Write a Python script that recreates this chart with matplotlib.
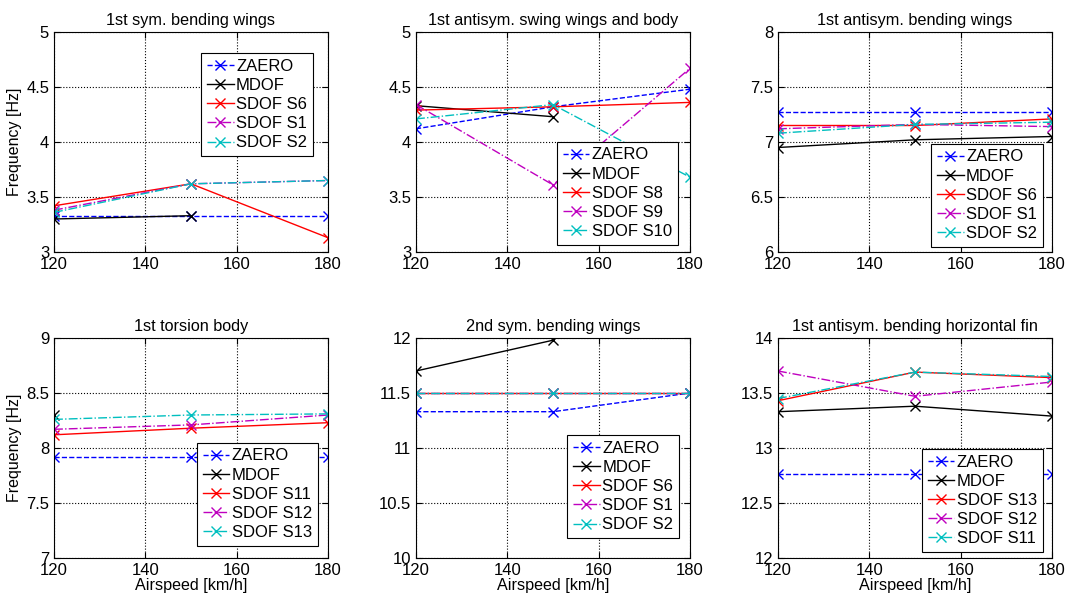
import matplotlib
matplotlib.use('Agg')
import matplotlib.pyplot as plt

plt.rcParams['font.family'] = ['Liberation Sans', 'DejaVu Sans']

airspeed = [120, 150, 180]

# 1st sym. bending wings
sb1_zaero = [3.33, 3.33, 3.33]
sb1_mdof = [3.30, 3.33]
sb1_s6 = [3.42, 3.62, 3.13]
sb1_s1 = [3.38, 3.62, 3.65]
sb1_s2 = [3.36, 3.62, 3.65]

# 1st antisym. swing wings and body
as1_zaero = [4.12, 4.32, 4.48]
as1_mdof = [4.33, 4.23]
as1_s8 = [4.29, 4.32, 4.36]
as1_s9 = [4.34, 3.61, 4.67]
as1_s10 = [4.21, 4.34, 3.68]

# 1st antisym. bending wings
ab1_zaero = [7.27, 7.27, 7.27]
ab1_mdof = [6.95, 7.02, 7.05]
ab1_s6 = [7.15, 7.15, 7.21]
ab1_s1 = [7.12, 7.16, 7.14]
ab1_s2 = [7.08, 7.16, 7.18]

# 1st torsion body
tb1_zaero = [7.92, 7.92, 7.92]
tb1_mdof = [8.30]
tb1_s11 = [8.12, 8.18, 8.23]
tb1_s12 = [8.17, 8.21, 8.30]
tb1_s13 = [8.26, 8.30, 8.31]

# 2nd sym. bending wings
sb2_zaero = [11.33, 11.33, 11.50]
sb2_mdof = [11.70, 11.98]
sb2_s6 = [11.50, 11.50, 11.50]
sb2_s1 = [11.50, 11.50, 11.50]
sb2_s2 = [11.50, 11.50, 11.50]

# 1st antisym. bending horizontal fin
hf1_zaero = [12.76, 12.76, 12.76]
hf1_mdof = [13.33, 13.38, 13.29]
hf1_s13 = [13.43, 13.69, 13.64]
hf1_s12 = [13.70, 13.47, 13.60]
hf1_s11 = [13.45, 13.69, 13.65]

panels = [
    ('1st sym. bending wings', (3, 5),
     [sb1_zaero, sb1_mdof, sb1_s6, sb1_s1, sb1_s2],
     ['ZAERO', 'MDOF', 'SDOF S6', 'SDOF S1', 'SDOF S2'], (0.945, 0.905), 'upper right'),
    ('1st antisym. swing wings and body', (3, 5),
     [as1_zaero, as1_mdof, as1_s8, as1_s9, as1_s10],
     ['ZAERO', 'MDOF', 'SDOF S8', 'SDOF S9', 'SDOF S10'], (0.956, 0.032), 'lower right'),
    ('1st antisym. bending wings', (6, 8),
     [ab1_zaero, ab1_mdof, ab1_s6, ab1_s1, ab1_s2],
     ['ZAERO', 'MDOF', 'SDOF S6', 'SDOF S1', 'SDOF S2'], (0.967, 0.023), 'lower right'),
    ('1st torsion body', (7, 9),
     [tb1_zaero, tb1_mdof, tb1_s11, tb1_s12, tb1_s13],
     ['ZAERO', 'MDOF', 'SDOF S11', 'SDOF S12', 'SDOF S13'], (0.963, 0.055), 'lower right'),
    ('2nd sym. bending wings', (10, 12),
     [sb2_zaero, sb2_mdof, sb2_s6, sb2_s1, sb2_s2],
     ['ZAERO', 'MDOF', 'SDOF S6', 'SDOF S1', 'SDOF S2'], (0.96, 0.09), 'lower right'),
    ('1st antisym. bending horizontal fin', (12, 14),
     [hf1_zaero, hf1_mdof, hf1_s13, hf1_s12, hf1_s11],
     ['ZAERO', 'MDOF', 'SDOF S13', 'SDOF S12', 'SDOF S11'], (0.967, 0.027), 'lower right'),
]

styles = [('b', '--'), ('k', '-'), ('r', '-'), ('m', '-.'), ('c', '-.')]

W, H = 1069, 598
fig = plt.figure(figsize=(W / 100, H / 100), dpi=100)

lefts = [54, 416, 778]
tops = [32, 338]
aw, ah = 274, 220

for i, (title, ylim, series, labels, anchor, loc) in enumerate(panels):
    row, col = divmod(i, 3)
    ax = fig.add_axes([lefts[col] / W, (H - tops[row] - ah) / H, aw / W, ah / H])
    for vals, lab, (c, ls) in zip(series, labels, styles):
        ax.plot(airspeed[:len(vals)], vals, color=c, linestyle=ls, marker='x',
                markersize=7.5, markeredgewidth=1.0, linewidth=1.0, label=lab)
    ax.set_xlim(120, 180)
    ax.set_ylim(*ylim)
    ax.set_xticks([120, 140, 160, 180])
    ax.set_yticks([ylim[0] + k * 0.5 for k in range(5)])
    ax.set_yticklabels(['%g' % (ylim[0] + k * 0.5) for k in range(5)])
    ax.tick_params(direction='in', top=True, right=True, labelsize=12, length=4, pad=3.5)
    ax.grid(True, color='k', linestyle=':', linewidth=0.8)
    ax.set_title(title, fontsize=11.7, pad=5)
    for s in ax.spines.values():
        s.set_linewidth(0.8)
    if col == 0:
        ax.set_ylabel('Frequency [Hz]', fontsize=11.5, labelpad=3)
    if row == 1:
        ax.set_xlabel('Airspeed [km/h]', fontsize=11.6, labelpad=0)
    leg = ax.legend(loc=loc, bbox_to_anchor=anchor, fontsize=12, fancybox=False,
                    framealpha=1, edgecolor='k', handlelength=1.6, handletextpad=0.15,
                    labelspacing=0.25, borderpad=0.35, borderaxespad=0)
    leg.get_frame().set_linewidth(0.8)

fig.savefig('out.png', dpi=100)
